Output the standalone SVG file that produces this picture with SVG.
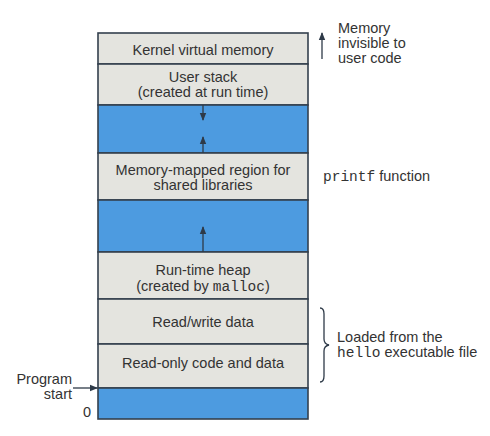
<svg xmlns="http://www.w3.org/2000/svg" width="490" height="436" viewBox="0 0 490 436">
<defs>
<marker id="ah" viewBox="0 0 8 8" refX="7" refY="4" markerWidth="8" markerHeight="8" markerUnits="userSpaceOnUse" orient="auto">
<path d="M0,0.8 L8,4 L0,7.2 z" fill="#2e3a48"/>
</marker>
<style>
.g{fill:#e4e4df;stroke:#34404e;stroke-width:1.6}
.b{fill:#4d9be0;stroke:#34404e;stroke-width:1.6}
.t{font-family:"Liberation Sans",Arial,sans-serif;font-size:14.5px;fill:#333;text-anchor:middle}
.s{font-family:"Liberation Sans",Arial,sans-serif;font-size:14.5px;fill:#333}
.m{font-family:"Liberation Mono","Courier New",monospace}
.c{stroke:#2e3a48;stroke-width:1.3;fill:none}
</style>
</defs>
<rect width="490" height="436" fill="#ffffff"/>
<g id="kernel"><rect class="g" x="98" y="33" width="210" height="31"/><text class="t" x="203" y="55">Kernel virtual memory</text></g>
<g id="stack"><rect class="g" x="98" y="64" width="210" height="41"/><text class="t" x="203" y="82">User stack</text><text class="t" x="203" y="97">(created at run time)</text></g>
<g id="gap1"><rect class="b" x="98" y="105" width="210" height="48"/></g>
<g id="mmap"><rect class="g" x="98" y="153" width="210" height="47"/><text class="t" x="203" y="175">Memory-mapped region for</text><text class="t" x="203" y="190">shared libraries</text></g>
<g id="gap2"><rect class="b" x="98" y="200" width="210" height="52"/></g>
<g id="heap"><rect class="g" x="98" y="252" width="210" height="47"/><text class="t" x="203" y="275">Run-time heap</text><text class="t" x="203" y="291">(created by <tspan class="m">malloc</tspan>)</text></g>
<g id="rw"><rect class="g" x="98" y="299" width="210" height="45"/><text class="t" x="203" y="327">Read/write data</text></g>
<g id="ro"><rect class="g" x="98" y="344" width="210" height="44"/><text class="t" x="203" y="368">Read-only code and data</text></g>
<g id="unused"><rect class="b" x="98" y="388" width="210" height="31"/></g>
<g id="labels">
<text class="s" x="338" y="33">Memory</text>
<text class="s" x="338" y="48">invisible to</text>
<text class="s" x="338" y="63">user code</text>
<text class="s" x="323" y="181"><tspan class="m">printf</tspan> function</text>
<text class="s" x="337" y="342">Loaded from the</text>
<text class="s" x="337" y="357"><tspan class="m">hello</tspan> executable file</text>
<text class="s" x="72" y="384" text-anchor="end">Program</text>
<text class="s" x="72" y="399" text-anchor="end">start</text>
<text class="s" x="83" y="417">0</text>
</g>
<g id="connectors">
<line class="c" x1="203" y1="105" x2="203" y2="120" marker-end="url(#ah)"/>
<line class="c" x1="203" y1="153" x2="203" y2="137" marker-end="url(#ah)"/>
<line class="c" x1="203" y1="252" x2="203" y2="227" marker-end="url(#ah)"/>
<line class="c" x1="322" y1="59" x2="322" y2="33" marker-end="url(#ah)"/>
<line class="c" x1="73" y1="388" x2="97" y2="388" marker-end="url(#ah)"/>
<path class="c" d="M320,308 Q324,308 324,314 L324,339 Q324,344 329,345 Q324,346 324,351 L324,376 Q324,382 320,382"/>
</g>
</svg>
